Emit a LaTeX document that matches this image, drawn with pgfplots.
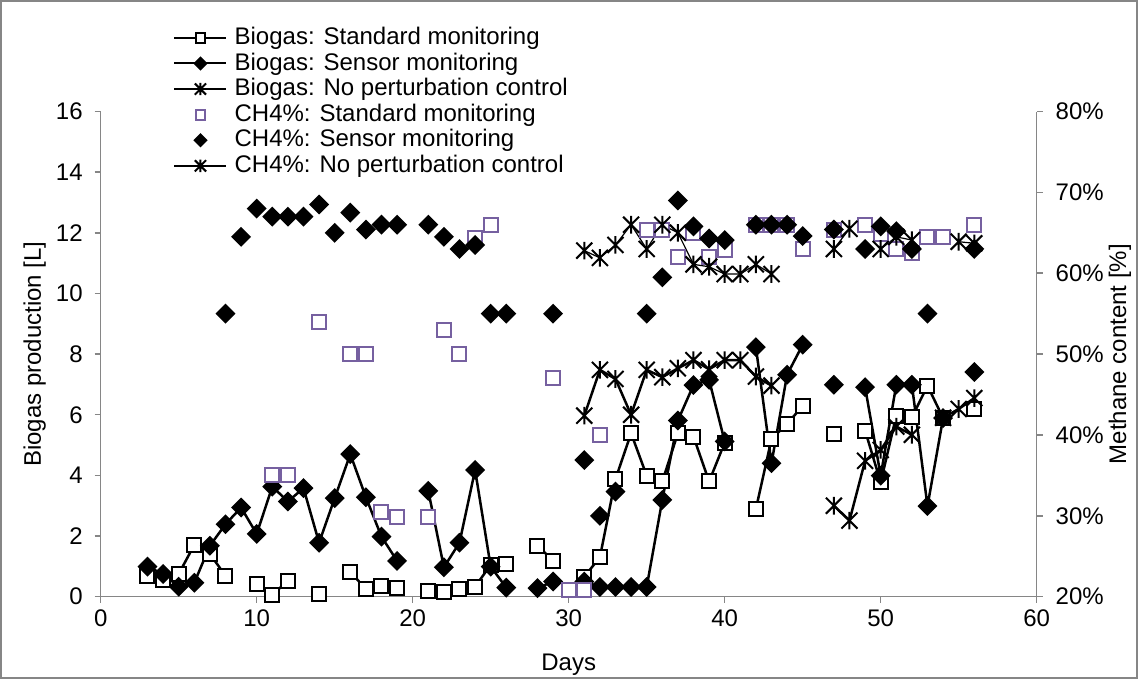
\documentclass[border=0pt]{standalone}
\usepackage{fontspec}
\setmainfont{Liberation Sans}
\usepackage{pgfplots}
\pgfplotsset{compat=1.18}
\definecolor{axgray}{RGB}{134,134,134}
\definecolor{lav}{RGB}{118,96,160}
\pgfdeclareplotmark{xstar}{%
  \pgfpathmoveto{\pgfqpoint{-\pgfplotmarksize}{-\pgfplotmarksize}}%
  \pgfpathlineto{\pgfqpoint{\pgfplotmarksize}{\pgfplotmarksize}}%
  \pgfpathmoveto{\pgfqpoint{-\pgfplotmarksize}{\pgfplotmarksize}}%
  \pgfpathlineto{\pgfqpoint{\pgfplotmarksize}{-\pgfplotmarksize}}%
  \pgfpathmoveto{\pgfqpoint{0pt}{-1.1\pgfplotmarksize}}%
  \pgfpathlineto{\pgfqpoint{0pt}{1.1\pgfplotmarksize}}%
  \pgfusepathqstroke}
\pgfplotsset{
  base/.style={
    scale only axis, width=468bp, height=242.6bp,
    xmin=0, xmax=60, clip=false,
    unbounded coords=jump,
    axis line style={axgray, line width=0.75bp, -},
    tick style={axgray, line width=0.75bp},
    tick align=outside, major tick length=3bp,
    font=\fontsize{12bp}{14bp}\selectfont,
    ticklabel style={font=\fontsize{12bp}{14bp}\selectfont},
    /pgf/number format/assume math mode=true,
  },
  sqstyle/.style={black, line width=1.25bp, mark=square*, mark size=3.5bp,
    mark options={fill=white, draw=black, line width=1bp, solid}},
  dmstyle/.style={black, line width=1.25bp, mark=square*, mark size=2.9bp,
    mark options={rotate=45, fill=black, draw=black, solid}},
  ststyle/.style={black, line width=1.25bp, mark=xstar, mark size=4bp,
    mark options={line width=1bp, solid}},
}
\begin{document}
\begin{tikzpicture}
\useasboundingbox (-50.35bp,-41.15bp) rectangle (518.65bp,298.35bp);
\draw[axgray, line width=0.75bp] (-49.9bp,-40.7bp) rectangle (518.2bp,297.9bp);
\begin{axis}[base,
  ymin=0, ymax=16,
  xtick={0,10,...,60}, ytick={0,2,...,16},
  axis x line*=bottom, axis y line*=left,
  yticklabel style={xshift=-2.5bp},
  xlabel={Days}, ylabel={Biogas production [L]},
  xlabel style={at={(0.5,-34bp)}, anchor=center},
  ylabel style={at={(-33bp,0.5)}, anchor=center},
]
\addplot[sqstyle] table {
x y
3 0.69
4 0.55
5 0.75
6 1.71
7 1.41
8 0.69
9 nan
10 0.41
11 0.06
12 0.53
13 nan
14 0.08
15 nan
16 0.83
17 0.24
18 0.35
19 0.28
20 nan
21 0.20
22 0.14
23 0.24
24 0.33
25 1.05
26 1.08
27 nan
28 1.68
29 1.19
30 nan
31 0.66
32 1.30
33 3.88
34 5.39
35 3.99
36 3.80
37 5.39
38 5.28
39 3.80
40 5.08
41 nan
42 2.89
43 5.20
44 5.70
45 6.29
46 nan
47 5.37
48 nan
49 5.48
50 3.77
51 5.97
52 5.91
53 6.96
54 5.89
55 nan
56 6.19
};
\addplot[dmstyle] table {
x y
3 0.99
4 0.75
5 0.33
6 0.46
7 1.68
8 2.39
9 2.94
10 2.07
11 3.63
12 3.14
13 3.58
14 1.78
15 3.25
16 4.70
17 3.28
18 1.98
19 1.18
20 nan
21 3.49
22 0.97
23 1.78
24 4.18
25 0.99
26 0.30
27 nan
28 0.28
29 0.50
30 nan
31 0.50
32 0.32
33 0.32
34 0.32
35 0.32
36 3.19
37 5.81
38 6.98
39 7.15
40 5.12
41 nan
42 8.23
43 4.40
44 7.32
45 8.31
46 nan
47 6.99
48 nan
49 6.91
50 3.99
51 6.99
52 6.99
53 2.99
54 5.89
55 nan
56 7.41
};
\addplot[ststyle] table {
x y
31 5.97
32 7.48
33 7.18
34 6.00
35 7.48
36 7.24
37 7.53
38 7.80
39 7.50
40 7.80
41 7.80
42 7.26
43 6.96
44 nan
47 3.00
48 2.51
49 4.48
50 4.84
51 5.61
52 5.34
53 nan
54 5.90
55 6.19
56 6.55
};
\end{axis}
\begin{axis}[base,
  ymin=20, ymax=80, ytick={20,30,...,80},
  yticklabel={\pgfmathprintnumber{\tick}\%},
  yticklabel style={xshift=3bp},
  axis y line*=right, axis x line=none,
  ylabel={Methane content [\%]},
  ylabel style={at={(1.089,0.5)}, anchor=center},
  legend cell align=left,
  legend style={at={(0.0773,1.179)}, anchor=north west, draw=none, fill=none,
    font=\fontsize{12bp}{14bp}\selectfont, row sep=0pt, inner sep=0pt,
    nodes={inner sep=0.6bp, text height=9.1bp, text depth=2.5bp}},
  legend image code/.code={%
    \draw[mark repeat=2, mark phase=2, #1] plot coordinates {(0bp,0bp) (13bp,0bp) (26bp,0bp)};
    \path (29bp,0bp);},
  legend image post style={line width=1bp, /tikz/every mark/.append style={scale=0.7}},
]
\addlegendimage{sqstyle}
\addlegendentry{Biogas: Standard monitoring}
\addlegendimage{dmstyle}
\addlegendentry{Biogas: Sensor monitoring}
\addlegendimage{ststyle}
\addlegendentry{Biogas: No perturbation control}
\addplot[only marks, mark=square*, mark size=3.5bp,
  mark options={fill=white, draw=lav, line width=1bp}] table {
x y
11 35.0
12 35.0
14 54.0
16 50.0
17 50.0
18 30.5
19 29.9
21 29.9
22 53.0
23 50.0
24 64.4
25 66.0
29 47.0
30 20.8
31 20.8
32 40.0
35 65.3
36 65.3
37 62.0
38 65.0
39 62.0
40 62.9
42 66.0
43 66.0
44 66.0
45 63.0
47 65.4
49 66.0
50 64.9
51 63.0
52 62.5
53 64.5
54 64.5
56 66.0
};
\addlegendentry{CH4\%: Standard monitoring}
\addplot[only marks, dmstyle] table {
x y
8 55.0
9 64.5
10 68.0
11 67.0
12 67.0
13 67.0
14 68.5
15 65.0
16 67.5
17 65.4
18 66.0
19 66.0
21 66.0
22 64.5
23 63.0
24 63.5
25 55.0
26 55.0
29 55.0
31 36.9
32 30.0
33 33.0
35 55.0
36 59.5
37 69.0
38 65.8
39 64.3
40 64.1
42 66.0
43 66.0
44 66.0
45 64.6
47 65.4
49 63.0
50 65.8
51 65.2
52 63.0
53 55.0
56 63.0
};
\addlegendentry{CH4\%: Sensor monitoring}
\addplot[ststyle, line width=0.6bp] table {
x y
31 62.8
32 61.9
33 63.5
34 66.0
35 63.0
36 66.0
37 65.0
38 61.1
39 60.8
40 59.9
41 59.9
42 61.1
43 59.9
44 nan
47 63.0
48 65.5
49 nan
50 63.0
51 64.5
52 64.1
53 nan
55 63.9
56 63.7
};
\addlegendentry{CH4\%: No perturbation control}
\end{axis}
\end{tikzpicture}
\end{document}
